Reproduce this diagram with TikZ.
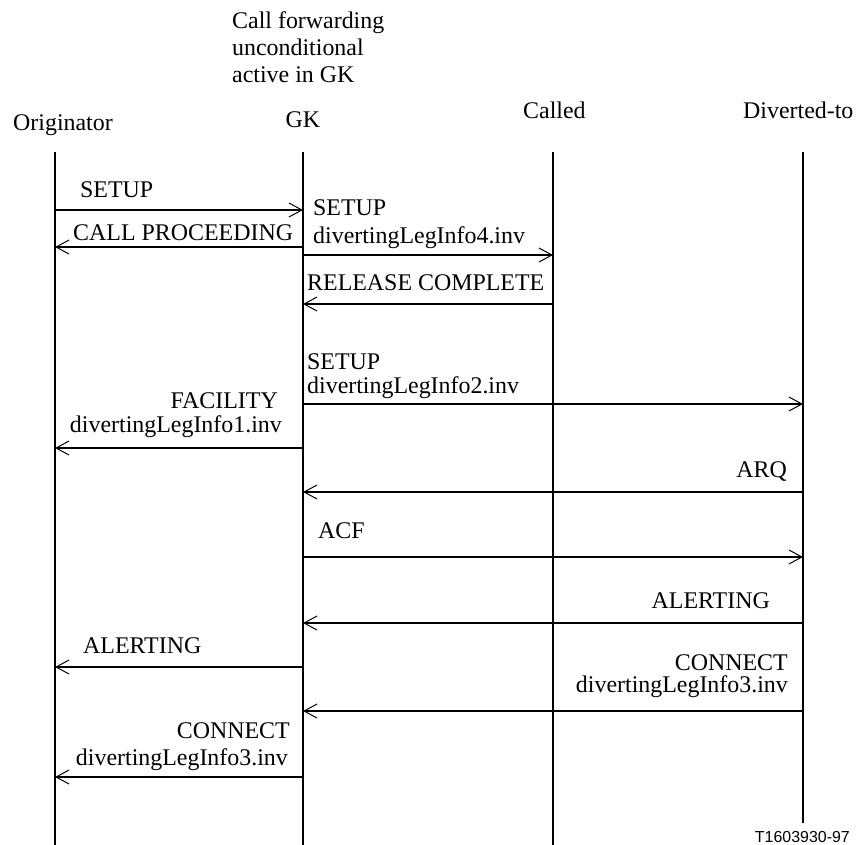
\documentclass[tikz,border=0pt]{standalone}
\usepackage{fontspec}
\setmainfont{Liberation Serif}
\newfontfamily\labelsans{Liberation Sans}
\usetikzlibrary{arrows.meta}
\begin{document}
\begin{tikzpicture}[x=1bp,y=-1bp,
  life/.style={line width=1.3bp},
  msg/.style={line width=1.3bp,-{Straight Barb[length=13bp,width=14bp,line width=1bp]}},
  lbl/.style={inner sep=0pt,font=\fontsize{24}{27}\selectfont},
]
\useasboundingbox (0,0) rectangle (858,845);

% lifelines
\coordinate (Ot) at (55,152);  \coordinate (Ob) at (55,845);
\coordinate (Gt) at (303,152); \coordinate (Gb) at (303,845);
\coordinate (Ct) at (553,152); \coordinate (Cb) at (553,845);
\coordinate (Dt) at (803,152); \coordinate (Db) at (803,823);
\draw[life] (Ot) -- (Ob);
\draw[life] (Gt) -- (Gb);
\draw[life] (Ct) -- (Cb);
\draw[life] (Dt) -- (Db);

% headings
\node[lbl,anchor=base west] (cf1) at (232,28) {Call forwarding};
\node[lbl,anchor=base west] (cf2) at (232,55) {unconditional};
\node[lbl,anchor=base west] (cf3) at (232,82) {active in GK};
\node[lbl,anchor=base west] (hO) at (13,130) {Originator};
\node[lbl,anchor=base] (hG) at (303,127) {GK};
\node[lbl,anchor=base west] (hC) at (523,118) {Called};
\node[lbl,anchor=base west] (hD) at (743,118) {Diverted-to};

% message end points
\coordinate (m1a) at (55,210);  \coordinate (m1b) at (303,210);
\coordinate (m2a) at (303,247); \coordinate (m2b) at (55,247);
\coordinate (m3a) at (303,255); \coordinate (m3b) at (553,255);
\coordinate (m4a) at (553,304); \coordinate (m4b) at (303,304);
\coordinate (m5a) at (303,404); \coordinate (m5b) at (803,404);
\coordinate (m6a) at (303,448); \coordinate (m6b) at (55,448);
\coordinate (m7a) at (803,492); \coordinate (m7b) at (303,492);
\coordinate (m8a) at (303,557); \coordinate (m8b) at (803,557);
\coordinate (m9a) at (803,623); \coordinate (m9b) at (303,623);
\coordinate (m10a) at (303,667); \coordinate (m10b) at (55,667);
\coordinate (m11a) at (803,711); \coordinate (m11b) at (303,711);
\coordinate (m12a) at (303,777); \coordinate (m12b) at (55,777);

\foreach \i in {1,...,12} { \draw[msg] (m\i a) -- (m\i b); }

% message labels
\node[lbl,anchor=base west] (l1) at (80,197) {SETUP};
\node[lbl,anchor=base west] (l2) at (73,240) {CALL PROCEEDING};
\node[lbl,anchor=base west] (l3a) at (313,215) {SETUP};
\node[lbl,anchor=base west] (l3b) at (313,243) {divertingLegInfo4.inv};
\node[lbl,anchor=base west] (l4) at (307,290) {RELEASE COMPLETE};
\node[lbl,anchor=base west] (l5a) at (307,369) {SETUP};
\node[lbl,anchor=base west] (l5b) at (307,393) {divertingLegInfo2.inv};
\node[lbl,anchor=base east] (l6a) at (278,408) {FACILITY};
\node[lbl,anchor=base east] (l6b) at (282,432) {divertingLegInfo1.inv};
\node[lbl,anchor=base east] (l7) at (787,477) {ARQ};
\node[lbl,anchor=base west] (l8) at (318,538) {ACF};
\node[lbl,anchor=base east] (l9) at (770,608) {ALERTING};
\node[lbl,anchor=base west] (l10) at (83,653) {ALERTING};
\node[lbl,anchor=base east] (l11a) at (788,670) {CONNECT};
\node[lbl,anchor=base east] (l11b) at (788,692) {divertingLegInfo3.inv};
\node[lbl,anchor=base east] (l12a) at (290,738) {CONNECT};
\node[lbl,anchor=base east] (l12b) at (288,765) {divertingLegInfo3.inv};

\node[inner sep=0pt,anchor=base east,font=\labelsans\fontsize{16}{18}\selectfont] (tag) at (850,842) {T1603930-97};
\end{tikzpicture}
\end{document}
